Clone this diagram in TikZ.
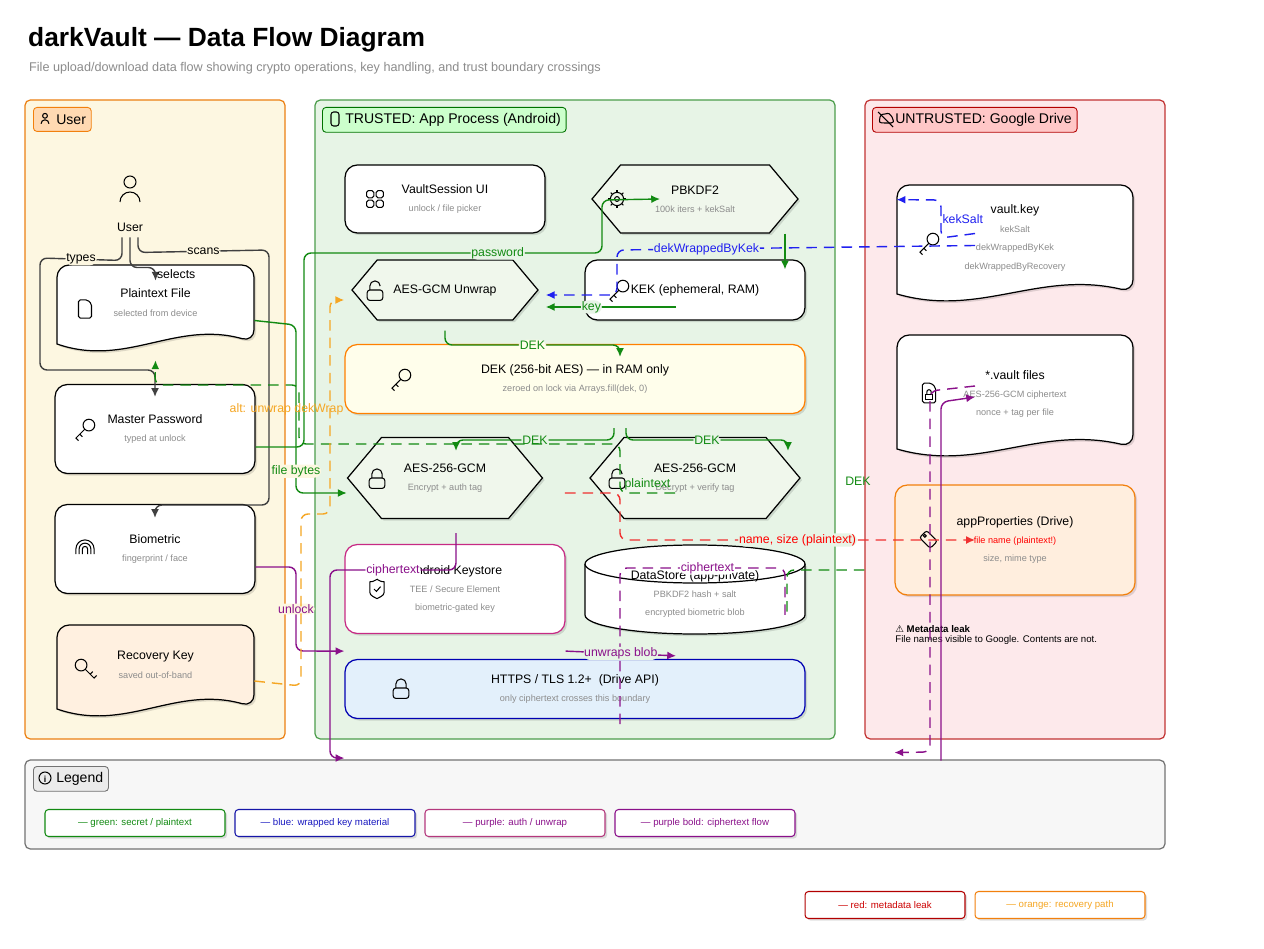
\documentclass[tikz,border=0pt]{standalone}
\usepackage{fontspec}
\setmainfont{Liberation Sans}
\newfontfamily\symfont{DejaVu Sans}
\usetikzlibrary{arrows.meta,shapes.symbols,shadows}

\definecolor{gline}{HTML}{128A12}
\definecolor{bline}{HTML}{2020F0}
\definecolor{pline}{HTML}{8A108A}
\definecolor{rline}{HTML}{F03030}
\definecolor{oline}{HTML}{F5A623}
\definecolor{subgray}{HTML}{8C8C8C}
\definecolor{userbg}{HTML}{FDF7E1}
\definecolor{trustbg}{HTML}{E7F4E6}
\definecolor{untrustbg}{HTML}{FDE9EB}
\definecolor{tlsbg}{HTML}{E3F0FB}
\definecolor{hexbg}{HTML}{F0F7EC}

\newcommand\mainfs{\fontsize{7}{8.5}\selectfont}
\newcommand\subfs{\fontsize{5.2}{7}\selectfont\color{subgray}}
\newcommand\lblfs{\fontsize{7}{8}\selectfont}
\newcommand\boxtext[2]{{\mainfs #1}\\[-1.5pt]{\subfs #2}}
\newcommand\boxtextt[3]{{\mainfs #1}\\[-1.5pt]{\subfs #2}\\[-1.5pt]{\subfs #3}}

% document box with a wavy bottom edge: name, x1, y1, x2, y2, fill
\newcommand\docbox[6]{%
  \draw[line width=0.7pt, fill=#6, shd] (#2,#5-6) [rounded corners=7] -- (#2,#3) -- (#4,#3) -- (#4,#5-8) [sharp corners]
    .. controls ({#2+0.6*(#4-#2)},#5-30) and ({#2+0.35*(#4-#2)},#5+18) .. cycle;
  \node[minimum width={(#4-#2)*0.02cm}, minimum height={(#5-#3-10)*0.02cm}, inner sep=0, align=center]
    (#1) at ({(#2+#4)/2},{(#3+#5-10)/2}) {};}

\tikzset{
  shd/.style={drop shadow={shadow xshift=1.2pt, shadow yshift=-1.2pt, opacity=0.12, fill=black}},
  box/.style={draw, line width=0.7pt, rounded corners=7, fill=white, align=center, shd},
  hexa/.style={draw, line width=0.7pt, signal, signal to=east and west, signal pointer angle=100,
    fill=hexbg, align=center, shd, inner sep=2pt},
  lane/.style={rounded corners=3, line width=0.7pt},
  lanetag/.style={draw, line width=0.5pt, rounded corners=2, font=\fontsize{8}{9}\selectfont,
    anchor=north west, minimum height=0.48cm, inner xsep=3pt},
  legitem/.style={draw, line width=0.6pt, rounded corners=2, fill=white, minimum width=3.6cm,
    minimum height=0.54cm, font=\fontsize{5.5}{6}\selectfont, shd},
  conn/.style={-{Latex[length=5pt,width=4.5pt]}, line width=0.8pt, rounded corners=4},
  lbl/.style={font=\lblfs, inner sep=0.5pt},
  ico/.style={line width=0.6pt},
  pics/lock/.style={code={\draw[ico, rounded corners=1.5] (-6,0) rectangle (6,8);
    \draw[ico] (-4,0) -- (-4,-3) arc (180:360:4) -- (4,0);}},
  pics/unlock/.style={code={\draw[ico, rounded corners=1.5] (-6,0) rectangle (6,8);
    \draw[ico] (-4,0) -- (-4,-3) arc (180:360:4);}},
  pics/key/.style={code={\draw[ico] (3,-3) circle (4.5); \draw[ico] (0,0) -- (-7,7) -- (-5,9);
    \draw[ico] (-4,4) -- (-2,6);}},
  pics/doc/.style={code={\draw[ico, rounded corners=1] (-5,-7) -- (2,-7) -- (5,-4) -- (5,7) -- (-5,7) -- cycle;}},
  pics/grid/.style={code={\foreach \i/\j in {-4/-4,4/-4,-4/4,4/4}
    \draw[ico, rounded corners=1] (\i-3,\j-3) rectangle (\i+3,\j+3);}},
  pics/gear/.style={code={\draw[ico] (0,0) circle (5.5); \draw[ico] (0,0) circle (2);
    \foreach \a in {0,45,...,315} \draw[ico] (\a:5.5) -- (\a:7.5);}},
  pics/shield/.style={code={\draw[ico] (0,-8) .. controls (4,-6) .. (6,-6) -- (6,0)
    .. controls (6,5) .. (0,8) .. controls (-6,5) .. (-6,0) -- (-6,-6) .. controls (-4,-6) .. cycle;
    \draw[ico] (-2.5,0) -- (-0.5,2) -- (3,-2);}},
  pics/finger/.style={code={\foreach \r in {2,4.5,7} \draw[ico] (-\r,4) -- (-\r,0) arc (180:360:\r) -- (\r,4);}},
  pics/tag/.style={code={\draw[ico, rounded corners=1.5] (-8,-2) -- (-2,-8) -- (7,1) -- (1,7) -- cycle;
    \draw[ico] (-3.5,-3.5) circle (1.2);}},
  pics/filelock/.style={code={\draw[ico, rounded corners=1] (-6,-9) -- (2,-9) -- (6,-5) -- (6,9) -- (-6,9) -- cycle;
    \draw[ico] (-3,1) rectangle (3,6); \draw[ico] (-2,1) -- (-2,-1) arc (180:360:2) -- (2,1);}},
  pics/person/.style={code={\draw[ico] (0,-4) circle (3); \draw[ico] (-5,6) arc (180:360:5);}},
}

\begin{document}
\begin{tikzpicture}[x=0.02cm, y=-0.02cm]
\useasboundingbox[fill=white] (0,0) rectangle (1264,949);

% title
\node[anchor=west, font=\fontsize{15}{16}\selectfont\bfseries] (title) at (22,40) {darkVault — Data Flow Diagram};
\node[anchor=west, font=\fontsize{7.2}{8}\selectfont, text=subgray] (subtitle) at (23,68)
  {File upload/download data flow showing crypto operations, key handling, and trust boundary crossings};

% lanes
\draw[lane, fill=userbg, draw=orange!70!brown] (25,100) rectangle (285,739);
\draw[lane, fill=trustbg, draw=green!45!black!70] (315,100) rectangle (835,739);
\draw[lane, fill=untrustbg, draw=red!70!black!80] (865,100) rectangle (1165,739);
\draw[lane, fill=black!3, draw=black!55] (25,760) rectangle (1165,849);
\node[lanetag, fill=orange!30, draw=orange!80!brown] (tagU) at (33,107) {\hspace{10pt}User};
\node[lanetag, fill=green!20, draw=green!45!black] (tagT) at (322,107) {\hspace{10pt}TRUSTED: App Process (Android)};
\node[lanetag, fill=red!22, draw=red!70!black] (tagR) at (872,107) {\hspace{10pt}UNTRUSTED: Google Drive};
\node[lanetag, fill=black!8, draw=black!55] (tagL) at (33,766) {\hspace{10pt}Legend};
\pic[scale=0.8] at (45,119) {person};
\draw[ico, rounded corners=1.5] (331,112) rectangle (339,126);
\draw[ico] (880,117) .. controls (879,123) .. (885,123) -- (891,123) .. controls (894,122) .. (892,117) .. controls (889,113) .. (885,114) .. controls (882,114) .. (880,117);
\draw[ico] (878,112) -- (893,127);
\draw[ico] (45,778) circle (6); \node[font=\fontsize{5}{5}\selectfont\bfseries] (info) at (45,779) {i};

% user column
\pic[scale=2] at (130,190) {person};
\node[font=\mainfs] (user) at (130,227) {User};
\docbox{pf}{57}{265}{254}{350}{white}
\node[align=center] (pftext) at (pf) {\boxtext{Plaintext File}{selected from device}};
\node[box, minimum width=4cm, minimum height=1.78cm] (mp) at (155,429) {\boxtext{Master Password}{typed at unlock}};
\node[box, minimum width=4cm, minimum height=1.78cm] (bio) at (155,549) {\boxtext{Biometric}{fingerprint / face}};
\docbox{rk}{57}{625}{254}{715}{orange!12}
\node[align=center] (rktext) at (rk) {\boxtext{Recovery Key}{saved out-of-band}};

% trusted app process
\node[box, minimum width=4cm, minimum height=1.36cm] (vs) at (445,199) {\boxtext{VaultSession UI}{unlock / file picker}};
\node[hexa, minimum width=4.12cm, minimum height=1.36cm] (pb) at (695,199) {\boxtext{PBKDF2}{100k iters + kekSalt}};
\node[hexa, minimum width=3.72cm, minimum height=1.2cm] (uw) at (445,290) {\mainfs AES-GCM Unwrap};
\node[box, minimum width=4.4cm, minimum height=1.2cm] (kek) at (695,290) {\mainfs KEK (ephemeral, RAM)};
\node[box, draw=orange, fill=yellow!8, minimum width=9.2cm, minimum height=1.38cm] (dek) at (575,379)
  {\boxtext{DEK (256-bit AES) — in RAM only}{zeroed on lock via Arrays.fill(dek, 0)}};
\node[hexa, minimum width=3.9cm, minimum height=1.62cm] (enc) at (445,478) {\boxtext{AES-256-GCM}{Encrypt + auth tag}};
\node[hexa, minimum width=4.2cm, minimum height=1.62cm] (dec) at (695,478) {\boxtext{AES-256-GCM}{Decrypt + verify tag}};
\node[box, draw=magenta!80!black, minimum width=4.4cm, minimum height=1.78cm] (ks) at (455,589)
  {\boxtextt{Android Keystore}{TEE / Secure Element}{biometric-gated key}};
\draw[line width=0.7pt, fill=white, shd] (585,564) -- (585,615) arc (180:0:110 and 19) -- (805,564);
\draw[line width=0.7pt, fill=white] (695,564) ellipse (110 and 19);
\node[align=center, inner sep=0, minimum width=4.4cm, minimum height=1.78cm, yshift=-0.1cm] (ds) at (695,589)
  {\boxtextt{DataStore (app-private)}{PBKDF2 hash + salt}{encrypted biometric blob}};
\node[box, draw=blue!70!black, fill=tlsbg, minimum width=9.2cm, minimum height=1.18cm] (tls) at (575,689)
  {\boxtext{HTTPS / TLS 1.2+\ \ (Drive API)}{only ciphertext crosses this boundary}};

% untrusted drive
\docbox{vk}{897}{185}{1133}{300}{white}
\node[align=center] (vktext) at (1015,238) {{\mainfs vault.key}\\[-1.5pt]{\subfs kekSalt}\\[-1.5pt]{\subfs dekWrappedByKek}\\[-1.5pt]{\subfs dekWrappedByRecovery}};
\docbox{vf}{897}{335}{1133}{455}{white}
\node[align=center] (vftext) at (1015,394) {\boxtextt{*.vault files}{AES-256-GCM ciphertext}{nonce + tag per file}};
\node[box, draw=orange!80!brown, fill=orange!13, minimum width=4.8cm, minimum height=2.2cm] (ap) at (1015,540)
  {{\mainfs appProperties (Drive)}\\[-1.5pt]{\fontsize{5.2}{7}\selectfont\color{red}file name (plaintext!)}\\[-1.5pt]{\subfs size, mime type}};
\node[anchor=north west, align=left, font=\fontsize{5.5}{6}\selectfont, inner sep=0] (leak) at (895,625)
  {{\bfseries{\symfont ⚠} Metadata leak}\\File names visible to Google. Contents are not.};

% icons
\pic[scale=1.2] at (375,199) {grid};
\pic[scale=1.2] at (617,199) {gear};
\pic[scale=1.3] at (375,290) {unlock};
\pic[scale=1.3] at (619,290) {key};
\pic[scale=1.3] at (401,379) {key};
\pic[scale=1.3] at (377,478) {lock};
\pic[scale=1.3] at (617,478) {unlock};
\pic[scale=1.2] at (377,589) {shield};
\pic[scale=1.3] at (401,688) {lock};
\pic[scale=1.3] at (85,309) {doc};
\pic[scale=1.3] at (85,429) {key};
\pic[scale=1.3] at (85,549) {finger};
\pic[scale=1.3, rotate=90] at (85,669) {key};
\pic[scale=1.3] at (929,243) {key};
\pic[scale=1.1] at (929,393) {filelock};
\pic[scale=1.2] at (929,540) {tag};

% connectors
\draw[conn, black!75] (user.south) -- ++(0,30) -| ([yshift=-0.32cm]pf.north)
  node[lbl, anchor=south west, pos=0.98, text=black] {selects};
\draw[conn, black!75] ([xshift=-0.16cm]user.south) -- ++(0,23) -- (40,258)
  node[lbl, midway, fill=userbg, text=black] {types} -- (40,370) -| ([yshift=-0.26cm]mp.north);
\draw[conn, black!75] ([xshift=0.16cm]user.south) -- ++(0,15) -- (269,250)
  node[lbl, midway, fill=userbg, text=black] {scans} -- (269,505) -| ([yshift=-0.28cm]bio.north);
\draw[conn, gline] (pf.east) ++(0,18) -- (296,325) -- (296,493)
  node[lbl, pos=0.87, fill=userbg] {file bytes} -- ([yshift=-0.3cm]enc.west);
\draw[conn, gline] (mp.east) ++(0,18) -- (304,447) -- (304,253) -- (602,253)
  node[lbl, pos=0.65, fill=trustbg] {password} -- (602,200) -- ([xshift=-0.7cm]pb.center);
\draw[conn, gline] ([xshift=1.8cm]pb.south) -- ([xshift=1.8cm,yshift=-0.2cm]kek.north);
\draw[conn, gline] ([xshift=-0.38cm,yshift=-0.34cm]kek.center) -- ([xshift=0.14cm,yshift=-0.34cm]uw.east)
  node[lbl, pos=0.65, fill=trustbg] {key};
\draw[conn, bline, dashed, dash pattern=on 6pt off 4pt] ([xshift=-0.8cm,yshift=-0.16cm]vk.center) -- (617,250)
  node[lbl, pos=0.75, fill=trustbg] {dekWrappedByKek} -- (617,295) -- ([xshift=0.14cm,yshift=-0.1cm]uw.east);
\draw[conn, bline, dashed, dash pattern=on 6pt off 4pt] ([xshift=-0.8cm,yshift=0.08cm]vk.center) -- (941,238) -- (941,200)
  node[lbl, midway, right, fill=white] {kekSalt} -- ([yshift=-0.3cm]vk.north west);
\draw[conn, gline] ([yshift=-0.2cm]uw.south) -- (445,345) -- (620,345)
  node[lbl, midway, fill=yellow!8] {DEK} -- ([xshift=0.9cm,yshift=-0.26cm]dek.north);
\draw[conn, gline] ([xshift=0.78cm,yshift=-0.28cm]dek.south) -- (614,440) -- (456,440)
  node[lbl, midway, fill=trustbg] {DEK} -- ([xshift=0.22cm,yshift=-0.28cm]enc.north);
\draw[conn, gline] ([xshift=1.02cm,yshift=-0.28cm]dek.south) -- (626,440) -- (788,440)
  node[lbl, midway, fill=trustbg] {DEK} -- ([xshift=1.86cm,yshift=-0.28cm]dec.north);
\draw[conn, gline, dashed, dash pattern=on 6pt off 4pt] ([xshift=-0.4cm,yshift=-0.3cm]dec.center) -- (620,493)
  node[lbl, midway, above=1pt] {plaintext} -- (620,444) -- (299,444) -- (299,385) -- (155,385) -- ([yshift=-0.4cm]pf.south);
\draw[gline, line width=0.8pt, dashed, dash pattern=on 6pt off 4pt, rounded corners=4]
  ([xshift=-0.6cm,yshift=-0.6cm]ap.west) -- (787,570) -- ([xshift=1.84cm,yshift=-0.42cm]ds.center);
\node[lbl, text=gline] (deklbl) at (858,481) {DEK};
\draw[conn, rline, dashed, dash pattern=on 6pt off 4pt] ([xshift=2.4cm,yshift=-0.3cm]enc.center) -- (620,493) -- (620,540) -- ([xshift=-0.8cm]ap.center)
  node[lbl, pos=0.5, fill=trustbg, text=red] {name, size (plaintext)};
\draw[conn, pline] ([xshift=0.22cm,yshift=-0.28cm]enc.south) -- (456,570) -- (330,570)
  node[lbl, midway, fill=white] {ciphertext} -- (330,758) -- ([yshift=-0.78cm]tls.south west);
\draw[conn, pline, dashed, dash pattern=on 6pt off 4pt] ([xshift=-0.8cm,yshift=0.08cm]vf.center) -- (930,391) -- (930,752) -- ([yshift=-3.14cm]ap.south west);
\draw[pline, line width=0.8pt, dashed, dash pattern=on 6pt off 4pt, rounded corners=4]
  ([xshift=1.8cm,yshift=-0.42cm]ds.center) -- (785,568) -- (620,568)
  node[lbl, pos=0.47, fill=white] {ciphertext} -- ([xshift=0.9cm,yshift=-0.82cm]tls.center);
\draw[conn, pline] ([xshift=-1.48cm,yshift=-3.3cm]ap.south) -- (941,402) -- ([xshift=-0.8cm,yshift=-0.14cm]vf.center);
\draw[conn, pline] ([yshift=-0.36cm]bio.east) -- (296,567) -- (296,651)
  node[lbl, pos=0.5, fill=userbg] {unlock} -- ([yshift=-0.34cm]ks.south west);
\draw[conn, pline] ([yshift=-0.34cm]ks.south east) -- ([xshift=-0.38cm,yshift=-0.34cm]ds.south)
  node[lbl, midway, fill=trustbg] {unwraps blob};
\draw[conn, oline, dashed, dash pattern=on 6pt off 4pt] ([yshift=-0.32cm]rk.east) -- (301,686) -- (301,514) -- (330,514) -- (330,300)
  node[lbl, pos=0.49, anchor=east, xshift=0.3cm, text=oline] {alt: unwrap dekWrap} -- ([xshift=-0.14cm,yshift=-0.2cm]uw.west);

% legend
\node[legitem, draw=gline, text=gline] (lg1) at (135,823) {— green: secret / plaintext};
\node[legitem, draw=bline!70!black, text=bline!80!black] (lg2) at (325,823) {— blue: wrapped key material};
\node[legitem, draw=magenta!70!black, text=pline] (lg3) at (515,823) {— purple: auth / unwrap};
\node[legitem, draw=pline, text=pline] (lg4) at (705,823) {— purple bold: ciphertext flow};
\node[legitem, draw=red!70!black, text=red!80!black, minimum width=3.2cm] (lg5) at (885,905) {— red: metadata leak};
\node[legitem, draw=orange!80!brown, text=oline, minimum width=3.4cm] (lg6) at (1060,905) {— orange: recovery path};
\end{tikzpicture}
\end{document}
